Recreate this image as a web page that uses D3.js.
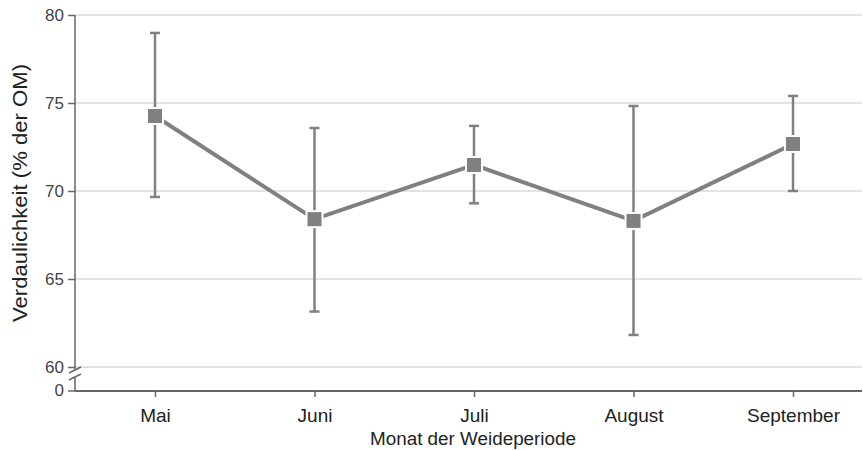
<!DOCTYPE html>
<html>
<head>
<meta charset="utf-8">
<script src="https://cdn.jsdelivr.net/npm/d3@7"></script>
<style>
  body { margin: 0; background: #fff; }
  text { font-family: "Liberation Sans", Arial, sans-serif; }
</style>
</head>
<body>
<svg id="chart" width="863" height="450"></svg>
<script>
const months = ['Mai', 'Juni', 'Juli', 'August', 'September'];
const meanValues = [74.26, 68.4, 71.48, 68.3, 72.67];
const upperValues = [78.98, 73.58, 73.7, 74.83, 75.4];
const lowerValues = [69.66, 63.15, 69.3, 61.82, 70.0];
const yTicks = [60, 65, 70, 75, 80];

const svg = d3.select('#chart');
const margin = { left: 75, right: 1, top: 15 };
const axisY = 391;
const plotBottom = 367;
const grey = '#808080';

const xScale = d3.scalePoint().domain(months).range([155, 793]);
const yScale = d3.scaleLinear().domain([60, 80]).range([plotBottom, margin.top]);

// gridlines
svg.append('g')
  .selectAll('line')
  .data(yTicks)
  .join('line')
  .attr('x1', margin.left)
  .attr('x2', 862)
  .attr('y1', (d) => yScale(d))
  .attr('y2', (d) => yScale(d))
  .attr('stroke', '#dadada')
  .attr('stroke-width', 1.5);

// y axis (upper part)
const yAxisG = svg.append('g').attr('transform', `translate(${margin.left},0)`);
yAxisG.call(d3.axisLeft(yScale).tickValues(yTicks).tickSize(7).tickPadding(4).tickSizeOuter(0));
yAxisG.select('.domain').attr('stroke', '#666').attr('stroke-width', 1.5)
  .attr('d', `M0,${margin.top}V${plotBottom + 3}`);
yAxisG.selectAll('.tick line').attr('stroke', '#666').attr('stroke-width', 1.5);
yAxisG.selectAll('.tick text').attr('fill', '#444').attr('font-size', 17);

// broken part with the 0 tick
const zeroG = svg.append('g').attr('transform', `translate(${margin.left},0)`);
zeroG.append('line').attr('x1', 0).attr('x2', 0).attr('y1', plotBottom + 10).attr('y2', axisY)
  .attr('stroke', '#666').attr('stroke-width', 1.5);
zeroG.append('line').attr('x1', -7).attr('x2', 0).attr('y1', axisY).attr('y2', axisY)
  .attr('stroke', '#666').attr('stroke-width', 1.5);
zeroG.append('text').attr('x', -11).attr('y', axisY).attr('dy', '0.32em')
  .attr('text-anchor', 'end').attr('fill', '#444').attr('font-size', 17).text('0');
[plotBottom + 3, plotBottom + 10].forEach((y) => {
  zeroG.append('line').attr('x1', -6).attr('x2', 6).attr('y1', y + 3).attr('y2', y - 3)
    .attr('stroke', '#666').attr('stroke-width', 1.5);
});

// x axis
const xAxisG = svg.append('g').attr('transform', `translate(0,${axisY})`);
xAxisG.call(d3.axisBottom(xScale).tickSize(6).tickPadding(12).tickSizeOuter(0));
xAxisG.select('.domain').attr('stroke', '#666').attr('stroke-width', 2)
  .attr('d', `M${margin.left},0H862`);
xAxisG.selectAll('.tick line').attr('stroke', '#666').attr('stroke-width', 1.5);
xAxisG.selectAll('.tick text').attr('fill', '#222').attr('font-size', 19);

// axis titles
svg.append('text')
  .attr('transform', `translate(27,193) rotate(-90)`)
  .attr('text-anchor', 'middle')
  .attr('fill', '#222')
  .attr('font-size', 20)
  .attr('textLength', 258)
  .attr('lengthAdjust', 'spacingAndGlyphs')
  .text('Verdaulichkeit (% der OM)');

svg.append('text')
  .attr('x', 473)
  .attr('y', 445)
  .attr('text-anchor', 'middle')
  .attr('fill', '#222')
  .attr('font-size', 17.5)
  .attr('textLength', 206)
  .attr('lengthAdjust', 'spacingAndGlyphs')
  .text('Monat der Weideperiode');

const rows = months.map((m, i) => ({ m, mean: meanValues[i], hi: upperValues[i], lo: lowerValues[i] }));

// error bars
const errG = svg.append('g').attr('stroke', grey).attr('stroke-width', 2.5);
rows.forEach((d) => {
  const x = xScale(d.m);
  errG.append('line').attr('x1', x).attr('x2', x).attr('y1', yScale(d.hi)).attr('y2', yScale(d.lo));
  errG.append('line').attr('x1', x - 5).attr('x2', x + 5).attr('y1', yScale(d.hi)).attr('y2', yScale(d.hi));
  errG.append('line').attr('x1', x - 5).attr('x2', x + 5).attr('y1', yScale(d.lo)).attr('y2', yScale(d.lo));
});

// mean line
svg.append('path')
  .datum(rows)
  .attr('fill', 'none')
  .attr('stroke', grey)
  .attr('stroke-width', 4)
  .attr('d', d3.line().x((d) => xScale(d.m)).y((d) => yScale(d.mean)));

// square markers with a white rim so the line stops short of them
svg.append('g')
  .selectAll('rect')
  .data(rows)
  .join('rect')
  .attr('x', (d) => xScale(d.m) - 9)
  .attr('y', (d) => yScale(d.mean) - 9)
  .attr('width', 18)
  .attr('height', 18)
  .attr('fill', '#fff');

svg.append('g')
  .selectAll('rect')
  .data(rows)
  .join('rect')
  .attr('x', (d) => xScale(d.m) - 7)
  .attr('y', (d) => yScale(d.mean) - 7)
  .attr('width', 14)
  .attr('height', 14)
  .attr('fill', grey);
</script>
</body>
</html>
